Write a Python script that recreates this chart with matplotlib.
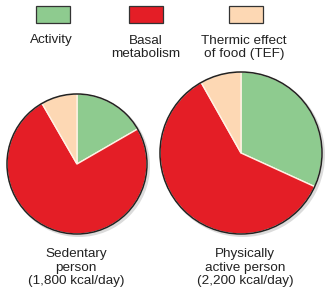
import matplotlib
matplotlib.use("Agg")
import matplotlib.pyplot as plt
from matplotlib.patches import Rectangle, Circle

categories = ["Activity", "Basal\nmetabolism", "Thermic effect\nof food (TEF)"]
sedentary = [300, 1350, 150]
active = [700, 1320, 180]
people = ["Sedentary\nperson\n(1,800 kcal/day)", "Physically\nactive person\n(2,200 kcal/day)"]
colors = ["#8ECB8F", "#E41E26", "#FDD8B4"]

W, H = 333, 300
fig = plt.figure(figsize=(W / 100, H / 100), dpi=100)
ax = fig.add_axes([0, 0, 1, 1])

pies = [((77, 164), 70, sedentary), ((241, 153), 81, active)]
for (c, r, vals) in pies:
    ax.add_patch(Circle((c[0] + 2, c[1] + 2), r + 1, color="#999999", alpha=0.35, lw=0, zorder=1))
    # y axis is inverted: startangle 270 + counterclock gives top start, visually clockwise
    ax.pie(vals, colors=colors, center=c, radius=r, startangle=270, counterclock=True,
           wedgeprops=dict(edgecolor="#FFF3E6", linewidth=1.0, zorder=2), frame=True)
    ax.add_patch(Circle(c, r, fill=False, edgecolor="#222222", lw=1.1, zorder=3))

# legend
box_x = [36, 129, 229]
lab_x = [51, 146, 244]
for bx, lx, col, lab in zip(box_x, lab_x, colors, categories):
    ax.add_patch(Rectangle((bx, 6), 34, 17, facecolor=col, edgecolor="#333333", lw=0.9, zorder=3))
    ax.text(lx, 34.5, lab, ha="center", va="top", fontsize=9.7, color="#222222",
            linespacing=1.15, family="Liberation Sans")

for x, lab in zip([76, 245], people):
    ax.text(x, 248, lab, ha="center", va="top", fontsize=9.7, color="#222222",
            linespacing=1.18, family="Liberation Sans")

ax.set_xlim(0, W)
ax.set_ylim(H, 0)
ax.set_aspect("equal")
ax.axis("off")
fig.savefig("out.png", dpi=100, facecolor="white")
